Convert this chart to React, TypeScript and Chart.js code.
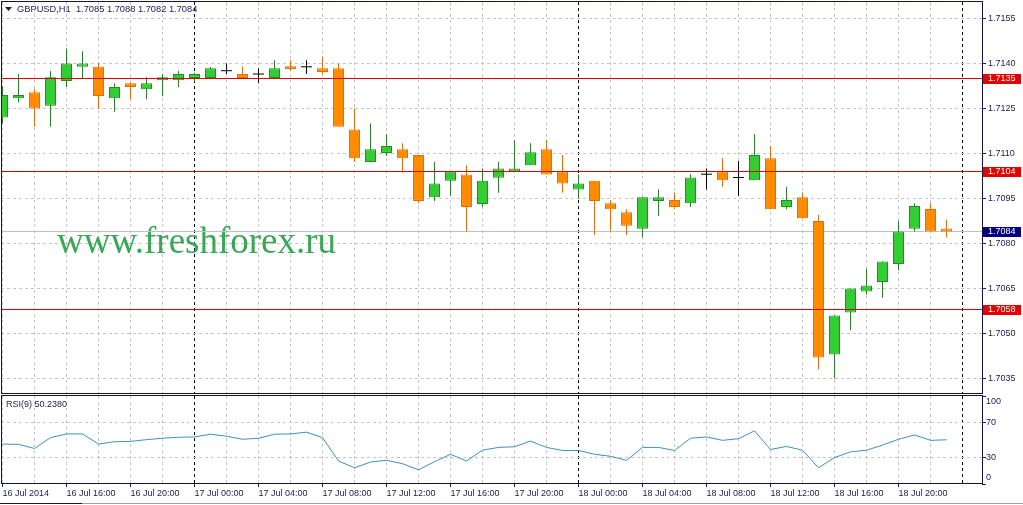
import React, { useEffect, useRef } from 'react';
import { Chart, registerables } from 'chart.js';

Chart.register(...registerables);

// ---------------- data ----------------
const symbolName = 'GBPUSD,H1';
const rsiPeriod = 9;
const watermarkText = 'www.freshforex.ru';

// hourly candles, 16 Jul 2014 12:00 ... 18 Jul 2014 23:00
const opens = [
  1.7122, 1.71284, 1.71304, 1.71259, 1.71342, 1.71389, 1.71389, 1.71284, 1.71334, 1.71314,
  1.71344, 1.71344, 1.71352, 1.71352, 1.71376, 1.71365, 1.71365, 1.71352, 1.71391, 1.71389,
  1.71384, 1.71384, 1.7118, 1.71072, 1.71102, 1.71114, 1.71095, 1.70954, 1.71009, 1.7103,
  1.70932, 1.71019, 1.71038, 1.71061, 1.71114, 1.7104, 1.7098, 1.71009, 1.70934, 1.70904,
  1.70849, 1.70942, 1.70945, 1.70934, 1.71031, 1.71041, 1.7102, 1.71011, 1.71084, 1.70922,
  1.70954, 1.70875, 1.7043, 1.7057, 1.7064, 1.70672, 1.70732, 1.70849, 1.70915, 1.7085,
];
const highs = [
  1.71325, 1.71365, 1.71314, 1.71375, 1.7145, 1.71441, 1.714, 1.71334, 1.71336, 1.71354,
  1.71365, 1.71375, 1.71369, 1.71388, 1.714, 1.71391, 1.71384, 1.71411, 1.71411, 1.71411,
  1.71422, 1.714, 1.7125, 1.712, 1.71165, 1.71134, 1.71095, 1.71072, 1.7104, 1.71061,
  1.7105, 1.71072, 1.71145, 1.71134, 1.71145, 1.71095, 1.7103, 1.71009, 1.70945, 1.70914,
  1.70954, 1.7098, 1.7097, 1.71031, 1.7105, 1.71084, 1.71075, 1.71165, 1.71125, 1.70989,
  1.7097, 1.70895, 1.7056, 1.7065, 1.70715, 1.7074, 1.70875, 1.70934, 1.70934, 1.7088,
];
const lows = [
  1.712, 1.7127, 1.71189, 1.71189, 1.71322, 1.71352, 1.7125, 1.71239, 1.71281, 1.71281,
  1.71291, 1.71322, 1.71339, 1.71348, 1.71365, 1.71352, 1.71334, 1.71352, 1.71375, 1.71365,
  1.71365, 1.71189, 1.71072, 1.71072, 1.71092, 1.71037, 1.70934, 1.70942, 1.70959, 1.70839,
  1.70922, 1.70969, 1.71038, 1.71061, 1.7103, 1.70969, 1.7095, 1.70828, 1.70839, 1.70828,
  1.7082, 1.70892, 1.70914, 1.70922, 1.7098, 1.70989, 1.70959, 1.71011, 1.70914, 1.70914,
  1.70884, 1.7038, 1.7035, 1.70511, 1.70629, 1.70619, 1.70711, 1.7084, 1.7084, 1.7082,
];
const closes = [
  1.71295, 1.71295, 1.7125, 1.71354, 1.714, 1.714, 1.71292, 1.71322, 1.71322, 1.71334,
  1.71354, 1.71365, 1.71365, 1.71384, 1.71376, 1.71352, 1.71365, 1.71384, 1.71382, 1.71389,
  1.71372, 1.71189, 1.71084, 1.71114, 1.71125, 1.71084, 1.70942, 1.71, 1.7104, 1.70922,
  1.71009, 1.7105, 1.7105, 1.71104, 1.7103, 1.71, 1.71, 1.70942, 1.70914, 1.70859,
  1.70954, 1.70954, 1.70922, 1.7102, 1.71031, 1.71011, 1.7102, 1.71095, 1.70914, 1.70945,
  1.70884, 1.7042, 1.7056, 1.7065, 1.7066, 1.7074, 1.7084, 1.70925, 1.7084, 1.7084,
];
const rsiValues = [
  45.4, 45.0, 40.4, 52.7, 56.9, 56.9, 45.4, 48.0, 48.4, 50.4,
  52.0, 53.1, 53.5, 56.6, 54.3, 50.8, 52.0, 56.6, 56.9, 58.9,
  52.7, 26.1, 18.4, 24.9, 26.9, 23.1, 16.1, 25.3, 33.8, 26.1,
  38.4, 41.6, 42.3, 48.8, 41.6, 38.1, 38.1, 33.8, 31.5, 26.9,
  41.6, 41.6, 38.1, 52.0, 53.5, 49.6, 51.5, 60.4, 39.2, 42.7,
  38.4, 18.4, 30.0, 36.5, 38.4, 44.2, 50.8, 55.8, 49.6, 50.238,
];
// time axis: label every 4 bars, grid every 2 bars, day separators
const timeTickLabels = [
  '16 Jul 2014', '16 Jul 16:00', '16 Jul 20:00', '17 Jul 00:00', '17 Jul 04:00',
  '17 Jul 08:00', '17 Jul 12:00', '17 Jul 16:00', '17 Jul 20:00', '18 Jul 00:00',
  '18 Jul 04:00', '18 Jul 08:00', '18 Jul 12:00', '18 Jul 16:00', '18 Jul 20:00',
];
const timeGridTicks = [
  0, 2, 4, 6, 8, 10, 12, 14, 16, 18, 20, 22, 24, 26, 28, 30,
  32, 34, 36, 38, 40, 42, 44, 46, 48, 50, 52, 54, 56, 58, 60,
];
const daySeparators = [12, 36, 60];
const priceTicks = [1.7035, 1.705, 1.7065, 1.708, 1.7095, 1.711, 1.7125, 1.714, 1.7155];
const rsiTicks = [0, 30, 70, 100];
const rsiGridLevels = [30, 70];
const levelPrices = [1.7135, 1.7104, 1.7058];

// ---------------- style / layout ----------------
const W = 1023;
const MAIN_H = 395;
const RSI_H = 110;
const PLOT_LEFT = 1;
const PLOT_RIGHT = 982;
const AXIS_W = W - PLOT_RIGHT;
const BAR_PX = 16;
const FIRST_BAR_PX = 2.5;
const X_MIN = (PLOT_LEFT - FIRST_BAR_PX) / BAR_PX;
const X_MAX = X_MIN + (PLOT_RIGHT - PLOT_LEFT) / BAR_PX;
const PX_PER_PRICE = 30000;
const MAIN_TOP = 2;
const MAIN_BOTTOM = 394;
const REF_PRICE = 1.7155;
const REF_PRICE_Y = 18.5;
const Y_MAX = REF_PRICE + (REF_PRICE_Y - MAIN_TOP) / PX_PER_PRICE;
const Y_MIN = Y_MAX - (MAIN_BOTTOM - MAIN_TOP) / PX_PER_PRICE;

const FONT = '"Liberation Sans", Arial, sans-serif';
const TEXT = '#1b1b55';
const FRAME = '#14143f';
const GRID = '#c6c6c6';
const DASH = [3, 3];
const BULL_FILL = '#32cd32';
const BULL_EDGE = '#268a26';
const BULL_WICK = '#2e7d2e';
const BEAR_FILL = '#ff8c00';
const BEAR_EDGE = '#e0700a';
const BEAR_WICK = '#e07018';
const LEVEL_RED = '#dc0000';
const LEVEL_BOX = '#e60000';
const BID_BOX = '#000080';
const BID_LINE = '#c0c0c0';
const RSI_COLOR = '#3f8fbf';
const WATERMARK = '#3aa756';

const idx = opens.map((_, i) => i);
const bullIdx = idx.filter((i) => closes[i] > opens[i]);
const bearIdx = idx.filter((i) => closes[i] < opens[i]);
const dojiIdx = idx.filter((i) => closes[i] === opens[i]);
const lastI = idx.length - 1;

const fitRight = (s: any) => {
  s.width = AXIS_W;
  s.paddingTop = 0; s.paddingBottom = 0; s.paddingLeft = 0; s.paddingRight = 0;
};
const fitBottom = (h: number) => (s: any) => {
  s.height = h;
  s.paddingTop = 0; s.paddingBottom = 0; s.paddingLeft = 0; s.paddingRight = 0;
};
const setTicks = (vals: number[]) => (s: any) => {
  s.ticks = vals.map((v) => ({ value: v }));
};
const timeGridColor = (ctx: any) => {
  const v = ctx.tick ? ctx.tick.value : NaN;
  return daySeparators.includes(v) ? '#000000' : GRID;
};

const drawFrame = (chart: any) => {
  const { ctx, chartArea: a } = chart;
  ctx.save();
  ctx.strokeStyle = FRAME;
  ctx.lineWidth = 1;
  ctx.setLineDash([]);
  ctx.strokeRect(a.left + 0.5, a.top - 0.5, a.right - a.left, a.bottom - a.top);
  ctx.restore();
};

const mainOverlay = {
  id: 'mainOverlay',
  beforeDatasetsDraw(chart: any) {
    const { ctx, chartArea: a, scales } = chart;
    ctx.save();
    // watermark
    ctx.font = `37px "Liberation Serif", "Times New Roman", serif`;
    ctx.fillStyle = WATERMARK;
    ctx.textBaseline = 'alphabetic';
    ctx.textAlign = 'left';
    ctx.fillText(watermarkText, 57, 253);
    // bid line
    const by = Math.floor(scales.y.getPixelForValue(closes[lastI])) + 0.5;
    ctx.strokeStyle = BID_LINE;
    ctx.lineWidth = 1;
    ctx.setLineDash([]);
    ctx.beginPath();
    ctx.moveTo(a.left, by);
    ctx.lineTo(a.right, by);
    ctx.stroke();
    ctx.restore();
  },
  afterDatasetsDraw(chart: any) {
    const { ctx, chartArea: a, scales } = chart;
    ctx.save();
    ctx.strokeStyle = LEVEL_RED;
    ctx.lineWidth = 1;
    ctx.setLineDash([]);
    levelPrices.forEach((p) => {
      const y = Math.floor(scales.y.getPixelForValue(p)) + 0.5;
      ctx.beginPath();
      ctx.moveTo(a.left, y);
      ctx.lineTo(a.right, y);
      ctx.stroke();
    });
    ctx.restore();
  },
  afterDraw(chart: any) {
    const { ctx, chartArea: a, scales } = chart;
    drawFrame(chart);
    ctx.save();
    ctx.font = `9px ${FONT}`;
    ctx.textBaseline = 'middle';
    ctx.textAlign = 'left';
    const box = (p: number, color: string) => {
      const y = scales.y.getPixelForValue(p);
      ctx.fillStyle = color;
      ctx.fillRect(a.right + 1, Math.floor(y) - 4, 38, 10);
      ctx.fillStyle = '#ffffff';
      ctx.fillText(p.toFixed(4), a.right + 6, Math.floor(y) + 1);
    };
    levelPrices.forEach((p) => box(p, LEVEL_BOX));
    box(closes[lastI], BID_BOX);
    // title
    ctx.fillStyle = TEXT;
    ctx.beginPath();
    ctx.moveTo(5, 7);
    ctx.lineTo(12, 7);
    ctx.lineTo(8.5, 11);
    ctx.closePath();
    ctx.fill();
    ctx.font = `9.3px ${FONT}`;
    const ohlc = [opens[lastI], highs[lastI], lows[lastI], closes[lastI]].map((v) => v.toFixed(4)).join(' ');
    ctx.fillText(`${symbolName}  ${ohlc}`, 17, 9.5);
    ctx.restore();
  },
};

const rsiOverlay = {
  id: 'rsiOverlay',
  afterDraw(chart: any) {
    const { ctx, chartArea: a, scales } = chart;
    drawFrame(chart);
    ctx.save();
    ctx.font = `9px ${FONT}`;
    ctx.fillStyle = TEXT;
    ctx.textAlign = 'left';
    ctx.textBaseline = 'middle';
    ctx.fillText(`RSI(${rsiPeriod}) ${rsiValues[lastI].toFixed(4)}`, 6, 10);
    rsiTicks.forEach((v) => {
      const y = scales.y.getPixelForValue(v);
      if (v === scales.y.max) {
        ctx.textBaseline = 'top';
        ctx.fillText(String(v), a.right + 4, y + 1.5);
      } else if (v === scales.y.min) {
        ctx.textBaseline = 'bottom';
        ctx.fillText(String(v), a.right + 4, y - 1.5);
      } else {
        ctx.textBaseline = 'middle';
        ctx.fillText(String(v), a.right + 4, y);
      }
    });
    ctx.restore();
  },
};

function buildMain(canvas: HTMLCanvasElement) {
  const wickSet = (ids: number[], color: string) => ({
    data: ids.map((i) => ({ x: i, y: [lows[i], highs[i]] })),
    backgroundColor: color,
    borderWidth: 0,
    grouped: false,
    barThickness: 1,
    maxBarThickness: 1,
    inflateAmount: 0,
  });
  const bodySet = (ids: number[], fill: string, edge: string) => ({
    data: ids.map((i) => ({ x: i, y: [opens[i], closes[i]] })),
    backgroundColor: fill,
    borderColor: edge,
    borderWidth: 1,
    borderSkipped: false,
    grouped: false,
    barThickness: 11,
    maxBarThickness: 11,
    inflateAmount: 0,
  });
  return new Chart(canvas, {
    type: 'bar',
    data: {
      datasets: [
        {
          type: 'scatter',
          data: dojiIdx.map((i) => ({ x: i, y: opens[i] })),
          pointStyle: 'line',
          pointRadius: 5.5,
          pointBorderWidth: 1,
          borderColor: '#000000',
          backgroundColor: '#000000',
          showLine: false,
        } as any,
        bodySet(bullIdx, BULL_FILL, BULL_EDGE) as any,
        bodySet(bearIdx, BEAR_FILL, BEAR_EDGE) as any,
        wickSet(bullIdx, BULL_WICK) as any,
        wickSet(bearIdx, BEAR_WICK) as any,
        wickSet(dojiIdx, '#000000') as any,
      ],
    },
    options: {
      responsive: false,
      animation: false,
      events: [],
      layout: {
        autoPadding: false,
        padding: { left: PLOT_LEFT, top: MAIN_TOP, right: 0, bottom: MAIN_H - MAIN_BOTTOM },
      },
      plugins: { legend: { display: false }, tooltip: { enabled: false }, title: { display: false } },
      scales: {
        x: {
          type: 'linear',
          position: 'bottom',
          min: X_MIN,
          max: X_MAX,
          offset: false,
          afterBuildTicks: setTicks(timeGridTicks),
          afterFit: fitBottom(0),
          ticks: { display: false },
          grid: { offset: false, color: timeGridColor, lineWidth: 1, drawTicks: false, borderDash: DASH } as any,
          border: { display: false, dash: DASH },
        },
        y: {
          type: 'linear',
          position: 'right',
          min: Y_MIN,
          max: Y_MAX,
          afterBuildTicks: setTicks(priceTicks),
          afterFit: fitRight,
          ticks: {
            callback: (v: any) => Number(v).toFixed(4),
            font: { family: FONT, size: 9 },
            color: TEXT,
            padding: 2,
          },
          grid: { offset: false, color: GRID, lineWidth: 1, drawTicks: true, tickLength: 4, tickColor: TEXT, borderDash: DASH } as any,
          border: { display: false, dash: DASH },
        },
      },
    },
    plugins: [mainOverlay],
  } as any);
}

function buildRsi(canvas: HTMLCanvasElement) {
  return new Chart(canvas, {
    type: 'line',
    data: {
      datasets: [
        {
          data: idx.map((i) => ({ x: i, y: rsiValues[i] })),
          borderColor: RSI_COLOR,
          borderWidth: 1,
          pointRadius: 0,
          tension: 0,
          fill: false,
        },
      ],
    },
    options: {
      responsive: false,
      animation: false,
      events: [],
      layout: { autoPadding: false, padding: { left: PLOT_LEFT, top: 1, right: 0, bottom: 0 } },
      plugins: { legend: { display: false }, tooltip: { enabled: false }, title: { display: false } },
      scales: {
        x: {
          type: 'linear',
          position: 'bottom',
          min: X_MIN,
          max: X_MAX,
          offset: false,
          afterBuildTicks: setTicks(timeGridTicks),
          afterFit: fitBottom(21),
          ticks: {
            autoSkip: false,
            maxRotation: 0,
            minRotation: 0,
            align: 'start',
            padding: 1,
            font: { family: FONT, size: 9 },
            color: TEXT,
            callback: (v: any) => (v % 4 === 0 && timeTickLabels[v / 4] ? timeTickLabels[v / 4] : ''),
          },
          grid: {
            offset: false,
            color: timeGridColor,
            lineWidth: 1,
            drawTicks: true,
            tickLength: 3,
            tickColor: (ctx: any) =>
              ctx.tick && ctx.tick.value % 4 === 0 && timeTickLabels[ctx.tick.value / 4] ? TEXT : 'rgba(0,0,0,0)',
            borderDash: DASH,
          } as any,
          border: { display: false, dash: DASH },
        },
        y: {
          type: 'linear',
          position: 'right',
          min: 0,
          max: 100,
          afterBuildTicks: setTicks(rsiTicks),
          afterFit: fitRight,
          ticks: { display: false },
          grid: {
            offset: false,
            color: (ctx: any) => (ctx.tick && rsiGridLevels.includes(ctx.tick.value) ? GRID : 'rgba(0,0,0,0)'),
            lineWidth: 1,
            drawTicks: true,
            tickLength: 4,
            tickColor: TEXT,
            borderDash: DASH,
          } as any,
          border: { display: false, dash: DASH },
        },
      },
    },
    plugins: [rsiOverlay],
  } as any);
}

export default function App() {
  const mainRef = useRef<HTMLCanvasElement>(null);
  const rsiRef = useRef<HTMLCanvasElement>(null);
  useEffect(() => {
    document.body.style.margin = '0';
    const main = buildMain(mainRef.current!);
    const rsi = buildRsi(rsiRef.current!);
    return () => {
      main.destroy();
      rsi.destroy();
    };
  }, []);
  return (
    <div style={{ position: 'absolute', left: 0, top: 0, width: W, height: 505, background: '#ffffff', overflow: 'hidden' }}>
      <canvas ref={mainRef} width={W} height={MAIN_H} style={{ position: 'absolute', left: 0, top: 0, display: 'block' }} />
      <canvas ref={rsiRef} width={W} height={RSI_H} style={{ position: 'absolute', left: 0, top: MAIN_H, display: 'block' }} />
      <div style={{ position: 'absolute', left: 0, top: 503, width: W, height: 1, background: '#a0a0a0' }} />
      <div style={{ position: 'absolute', left: 0, top: 503, width: 82, height: 1, background: '#1a1a1a' }} />
    </div>
  );
}
